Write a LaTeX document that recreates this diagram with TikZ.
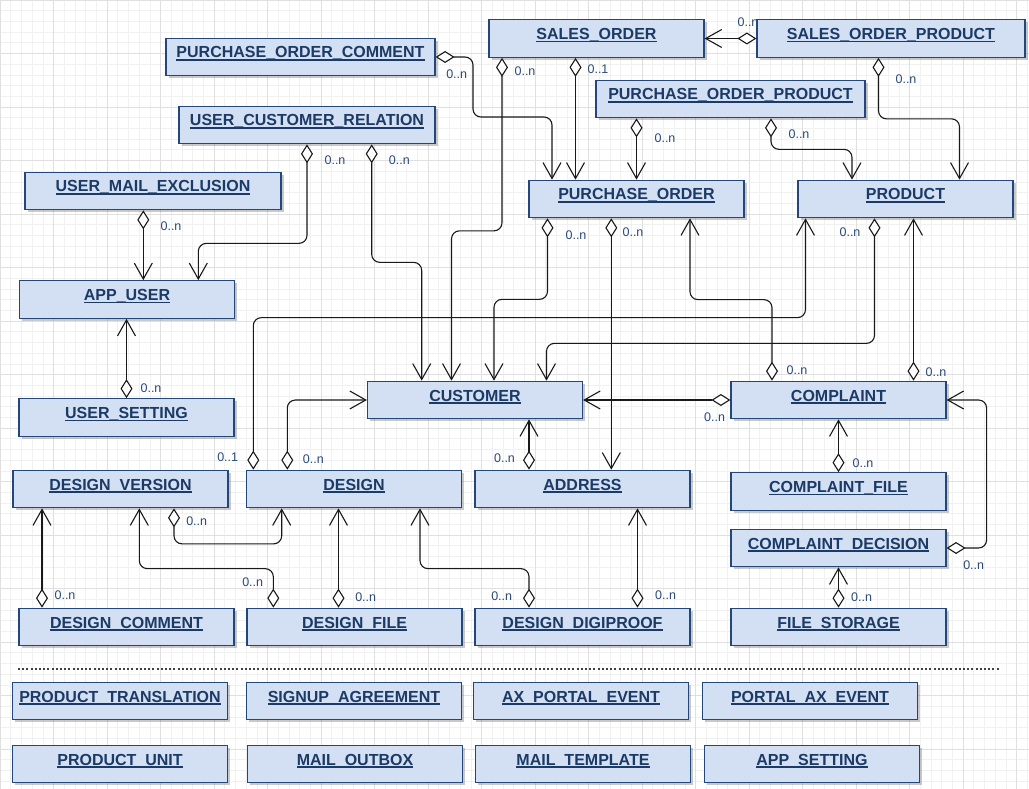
\documentclass[tikz,border=0pt]{standalone}
\usepackage{fontspec}
\setmainfont{Liberation Sans}
\usepackage{xcolor}
\definecolor{ermFill}{HTML}{D3E0F3}
\definecolor{ermBorder}{HTML}{24477A}
\definecolor{ermText}{HTML}{1B3A66}
\definecolor{ermCard}{HTML}{2A4A78}
\definecolor{ermGridMinor}{HTML}{F1F1F1}
\definecolor{ermGridMajor}{HTML}{E0E0E0}
\usepackage{tikz}
\usetikzlibrary{arrows.meta,shadows}
\newcommand{\ermtitle}[1]{\setbox0\hbox{#1}\rlap{\rule[-2.6pt]{\wd0}{1.4pt}}\box0}
\tikzset{
    entity/.style={
        draw=ermBorder,
        fill=ermFill,
        rectangle,
        line width=1.2pt,
        minimum width=215pt,
        minimum height=37.5pt,
        inner sep=0pt,
        text height=14pt,
        text depth=12pt,
        text=ermText,
        drop shadow={shadow xshift=2.5pt,shadow yshift=-2.5pt,opacity=0.35,fill=black!60},
        font=\bfseries\fontsize{16}{18}\selectfont
    },
    rel/.style={
        {Diamond[fill=white,length=19pt,width=12pt]}-{Straight Barb[length=16pt,width=18pt]},
        draw=black!90,
        line width=1.1pt,
        rounded corners=8pt
    },
    card/.style={
        text=ermCard,
        inner sep=0pt,
        font=\fontsize{12.5}{14}\selectfont
    },
    sepline/.style={
        draw=black!75,
        line width=1.5pt,
        dash pattern=on 2pt off 2.2pt
    }
}

\begin{document}
\begin{tikzpicture}[x=1pt,y=-1pt]
    \useasboundingbox (0,0) rectangle (1029,789);
    \fill[white] (0,0) rectangle (1029,789);
    \draw[ermGridMinor, line width=0.6pt, step=10.7pt] (0,0) grid (1029,789);
    \draw[ermGridMajor, line width=0.8pt, step=53.5pt] (0,0) grid (1029,789);

    \node[entity, minimum width=269pt] (poc) at (300.5,57) {\ermtitle{PURCHASE\_ORDER\_COMMENT}};
    \node[entity] (so) at (596.5,38.5) {\ermtitle{SALES\_ORDER}};
    \node[entity, minimum width=268pt] (sop) at (891,38.5) {\ermtitle{SALES\_ORDER\_PRODUCT}};
    \node[entity, minimum width=269pt] (pop) at (730.5,99) {\ermtitle{PURCHASE\_ORDER\_PRODUCT}};
    \node[entity, minimum width=256pt] (ucr) at (307,125) {\ermtitle{USER\_CUSTOMER\_RELATION}};
    \node[entity, minimum width=256pt] (ume) at (153,191) {\ermtitle{USER\_MAIL\_EXCLUSION}};
    \node[entity] (po) at (636.5,199) {\ermtitle{PURCHASE\_ORDER}};
    \node[entity] (prod) at (905.5,199) {\ermtitle{PRODUCT}};
    \node[entity] (au) at (127,299.5) {\ermtitle{APP\_USER}};
    \node[entity] (us) at (126.5,417.5) {\ermtitle{USER\_SETTING}};
    \node[entity] (cust) at (475,400) {\ermtitle{CUSTOMER}};
    \node[entity] (cmp) at (838.5,400) {\ermtitle{COMPLAINT}};
    \node[entity] (dv) at (120.5,489) {\ermtitle{DESIGN\_VERSION}};
    \node[entity] (des) at (354,489) {\ermtitle{DESIGN}};
    \node[entity] (addr) at (582.5,489) {\ermtitle{ADDRESS}};
    \node[entity] (cf) at (838.5,491.5) {\ermtitle{COMPLAINT\_FILE}};
    \node[entity] (cd) at (838.5,548) {\ermtitle{COMPLAINT\_DECISION}};
    \node[entity] (dc) at (126.5,627) {\ermtitle{DESIGN\_COMMENT}};
    \node[entity] (df) at (354.5,627) {\ermtitle{DESIGN\_FILE}};
    \node[entity] (dd) at (582.5,627) {\ermtitle{DESIGN\_DIGIPROOF}};
    \node[entity] (fs) at (838.5,627) {\ermtitle{FILE\_STORAGE}};

    \coordinate (sepL) at (18,669);
    \coordinate (sepR) at (999,669);
    \draw[sepline] (sepL) -- (sepR);

    \node[entity] (pt) at (120,701) {\ermtitle{PRODUCT\_TRANSLATION}};
    \node[entity] (sa) at (354,701) {\ermtitle{SIGNUP\_AGREEMENT}};
    \node[entity] (ape) at (581,701) {\ermtitle{AX\_PORTAL\_EVENT}};
    \node[entity] (pae) at (810,701) {\ermtitle{PORTAL\_AX\_EVENT}};
    \node[entity] (pu) at (120,764) {\ermtitle{PRODUCT\_UNIT}};
    \node[entity] (mo) at (355,764) {\ermtitle{MAIL\_OUTBOX}};
    \node[entity] (mt) at (583,764) {\ermtitle{MAIL\_TEMPLATE}};
    \node[entity] (aps) at (812,764) {\ermtitle{APP\_SETTING}};

    \draw[rel] (sop.west) -- (so.east);
    \draw[rel] ([xshift=-12.5pt]sop.south) -- ++(0,61) -| ([xshift=54pt]prod.north);
    \draw[rel] ([xshift=40.5pt]pop.south) -- ++(0,31) -| ([xshift=-53.5pt]prod.north);
    \draw[rel] ([xshift=-94pt]pop.south) -- (po.north);
    \draw[rel] ([xshift=-21pt]so.south) -- ([xshift=-61pt]po.north);
    \draw[rel] (poc.east) -| (473,117) -| ([xshift=-84.5pt]po.north);
    \draw[rel] ([xshift=-94.5pt]so.south) -- ++(0,173) -| ([xshift=-23.5pt]cust.north);
    \draw[rel] ([xshift=64.7pt]ucr.south) -- ++(0,118) -| ([xshift=-53.3pt]cust.north);
    \draw[rel] (ucr.south) -- ++(0,99) -| ([xshift=71.3pt]au.north);
    \draw[rel] ([xshift=-9.7pt]ume.south) -- ([xshift=16.3pt]au.north);
    \draw[rel] (us.north) -- ([xshift=-0.5pt]au.south);
    \draw[rel] ([xshift=-89pt]po.south) -- ++(0,81) -| ([xshift=19pt]cust.north);
    \draw[rel] ([xshift=-25.2pt]po.south) -- ([xshift=28.8pt]addr.north);
    \draw[rel] ([xshift=-66.5pt]cmp.north) -- ++(0,-81) -| ([xshift=53.5pt]po.south);
    \draw[rel] ([xshift=75pt]cmp.north) -- ([xshift=8pt]prod.south);
    \draw[rel] ([xshift=-31pt]prod.south) -- ++(0,125) -| ([xshift=71.5pt]cust.north);
    \draw[rel] ([xshift=-100.7pt]des.north) -- ++(0,-152) -| ([xshift=-100pt]prod.south);
    \draw[rel] ([xshift=-66.7pt]des.north) |- (cust.west);
    \draw[rel] (cmp.west) -- (cust.east);
    \draw[rel] ([xshift=-53.5pt]addr.north) -- ([xshift=54pt]cust.south);
    \draw[rel] (cf.north) -- (cmp.south);
    \draw[rel] (cd.east) -- ++(40,0) |- (cmp.east);
    \draw[rel] (fs.north) -- (cd.south);
    \draw[rel] ([xshift=53.5pt]dv.south) -- ++(0,35.5) -| ([xshift=-72.3pt]des.south);
    \draw[rel] ([xshift=-84.5pt]dc.north) -- ([xshift=-78.5pt]dv.south);
    \draw[rel] ([xshift=-81.2pt]df.north) -- ++(0,-39) -| ([xshift=18.8pt]dv.south);
    \draw[rel] ([xshift=-16pt]df.north) -- ([xshift=-15.5pt]des.south);
    \draw[rel] ([xshift=-53.5pt]dd.north) -- ++(0,-39) -| ([xshift=66pt]des.south);
    \draw[rel] ([xshift=55pt]dd.north) -- ([xshift=55pt]addr.south);

    \node[card] (c-sop-so) at (748,22) {0..n};
    \node[card] (c-sop-prod) at (906,79) {0..n};
    \node[card] (c-pop-prod) at (799,134) {0..n};
    \node[card] (c-pop-po) at (665,138) {0..n};
    \node[card] (c-so-po) at (598,69) {0..1};
    \node[card] (c-poc-po) at (456.7,74) {0..n};
    \node[card] (c-so-cust) at (525,71) {0..n};
    \node[card] (c-ucr-cust) at (399.3,160) {0..n};
    \node[card] (c-ucr-au) at (335,160) {0..n};
    \node[card] (c-ume-au) at (171,226) {0..n};
    \node[card] (c-us-au) at (151,388) {0..n};
    \node[card] (c-po-cust) at (576,235) {0..n};
    \node[card] (c-po-addr) at (633,232) {0..n};
    \node[card] (c-cmp-po) at (797,370) {0..n};
    \node[card] (c-cmp-prod) at (936,372) {0..n};
    \node[card] (c-prod-cust) at (850,232) {0..n};
    \node[card] (c-des-prod) at (227.7,456.7) {0..1};
    \node[card] (c-des-cust) at (313.3,459.3) {0..n};
    \node[card] (c-cmp-cust) at (714.6,416.7) {0..n};
    \node[card] (c-addr-cust) at (504.5,458) {0..n};
    \node[card] (c-cf-cmp) at (863,463) {0..n};
    \node[card] (c-cd-cmp) at (973.7,565) {0..n};
    \node[card] (c-fs-cd) at (861.6,597) {0..n};
    \node[card] (c-dv-des) at (196.7,520.7) {0..n};
    \node[card] (c-dc-dv) at (65,595) {0..n};
    \node[card] (c-df-dv) at (252.7,582.3) {0..n};
    \node[card] (c-df-des) at (365.7,597.3) {0..n};
    \node[card] (c-dd-des) at (501.7,596) {0..n};
    \node[card] (c-dd-addr) at (665.6,595) {0..n};
\end{tikzpicture}
\end{document}
